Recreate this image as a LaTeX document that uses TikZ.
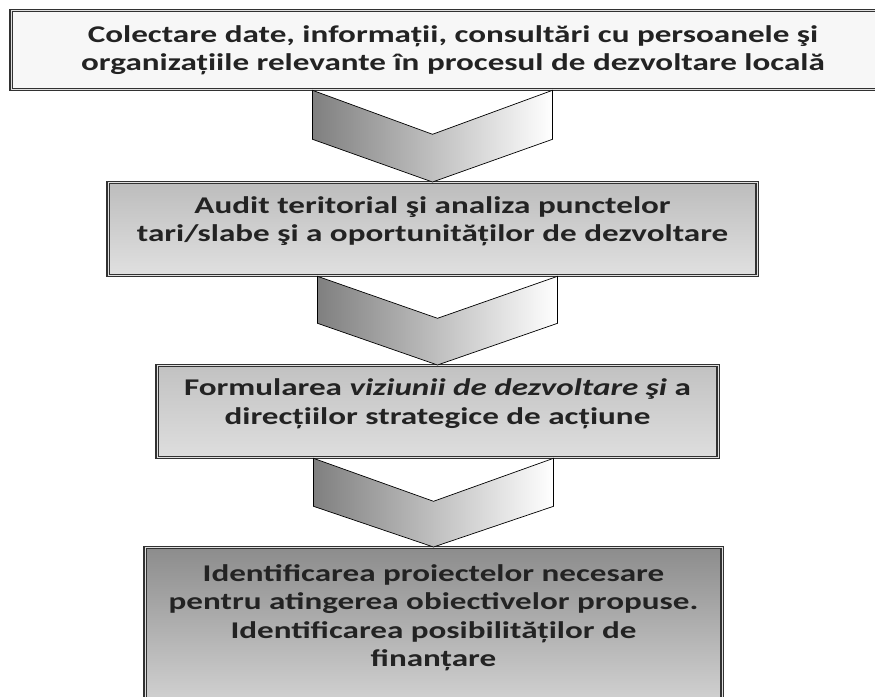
\documentclass[tikz,border=0pt]{standalone}
\usepackage{fontspec}
\setmainfont{Carlito}[FakeStretch=1.38]
\usepackage{tikz}
\usetikzlibrary{calc, positioning}

\definecolor{boxline}{RGB}{50, 50, 50}
\definecolor{textgray}{RGB}{35, 35, 35}

% chevron between two boxes: #1 upper box, #2 lower box, #3 notch depth, #4 side depth
\newcommand{\chevdown}[4]{%
  \path[chev] let \p1=(#1.south), \p2=(#2.north) in
    (\x2-120pt,\y1) -- (\x2,\y1-#3) -- (\x2+120pt,\y1) -- (\x2+120pt,\y1-#4)
    -- (#2.north) -- (\x2-120pt,\y1-#4) -- cycle;}

\begin{document}
\begin{tikzpicture}[x=1pt, y=-1pt,
  stagebox/.style={draw=boxline, double=black!12, line width=1.3pt, double distance=1pt,
    align=center, anchor=north, inner sep=0pt, text=textgray,
    font=\fontsize{24}{28.5}\selectfont\bfseries},
  chev/.style={draw=black, line width=0.7pt, left color=black!50, right color=white}]
  \useasboundingbox (0,0) rectangle (875,696);

  % stages
  \node[stagebox, fill=black!3, minimum width=884pt, minimum height=79pt] (collect) at (453,10)
    {Colectare date, informații, consultări cu persoanele şi\\
     organizațiile relevante în procesul de dezvoltare locală};
  \node[stagebox, top color=black!26, bottom color=black!12, minimum width=649pt,
    minimum height=93pt, text depth=20pt] (audit) at (432.5,182)
    {Audit teritorial şi analiza punctelor\\
     tari/slabe şi a oportunităților de dezvoltare};
  \node[stagebox, top color=black!24, bottom color=black!13, minimum width=561pt,
    minimum height=92pt, text depth=20pt] (vision) at (437.5,365)
    {Formularea \textit{viziunii de dezvoltare şi} a\\
     direcțiilor strategice de acțiune};
  \node[stagebox, top color=black!45, bottom color=black!17, minimum width=577pt,
    minimum height=160pt, text depth=24pt] (projects) at (433.5,547)
    {Identificarea proiectelor necesare\\
     pentru atingerea obiectivelor propuse.\\
     Identificarea posibilităților de\\
     finanțare};

  % arrows
  \chevdown{collect}{audit}{44pt}{49pt}
  \chevdown{audit}{vision}{42pt}{47pt}
  \chevdown{vision}{projects}{43pt}{48pt}
\end{tikzpicture}
\end{document}
